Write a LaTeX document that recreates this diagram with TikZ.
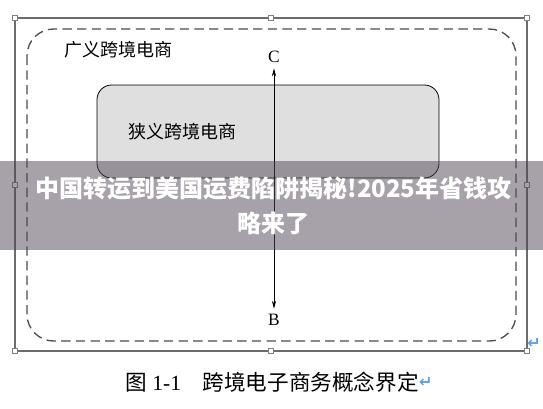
\documentclass[tikz,border=0pt]{standalone}
\usepackage{fontspec}
\setmainfont{Liberation Serif}
\newfontfamily\cjk{Noto Sans CJK SC}
\newfontfamily\sym{DejaVu Sans}
\usetikzlibrary{arrows.meta}
\definecolor{bannergray}{RGB}{80,70,85}
\definecolor{markblue}{RGB}{90,160,230}
\begin{document}
\begin{tikzpicture}[x=0.75pt, y=-0.75pt,
    handle/.style={draw=gray, fill=white, line width=0.4pt, minimum size=4pt, inner sep=0pt},
    frameline/.style={draw=gray!85!black, line width=1pt},
    region/.style={draw=gray!60!black, line width=1pt, dash pattern=on 7pt off 4pt, rounded corners=20pt},
    narrowbox/.style={draw=black, fill=gray!25, line width=0.6pt, rounded corners=11pt},
    retmark/.style={text=markblue, font=\sym\bfseries\fontsize{12}{14}\selectfont, inner sep=0pt}]
    \def\fl{15}  % frame left
    \def\fr{527} % frame right
    \def\ft{18}  % frame top
    \def\fb{351} % frame bottom
    \useasboundingbox (0,0) rectangle (543,408);

    % Selection frame
    \draw[frameline] (\fl,\ft) rectangle (\fr,\fb);

    % Broad and narrow regions
    \draw[region] (27,29) rectangle (516,341);
    \node[anchor=west, font=\cjk\fontsize{13.5}{16}\selectfont] (broad) at (60,50) {广义跨境电商};
    \draw[narrowbox] (97,85) rectangle (439,178);
    \node[anchor=west, font=\cjk\fontsize{13.5}{16}\selectfont] (narrow) at (124,132) {狭义跨境电商};

    % Axis between C and B
    \node[font=\fontsize{13}{15}\selectfont, inner sep=1pt] (C) at (274,57) {C};
    \node[font=\fontsize{13}{15}\selectfont, inner sep=1pt] (B) at (274,320) {B};
    \draw[{Stealth[length=6pt,width=3.2pt]}-{Stealth[length=6pt,width=3.2pt]}, line width=0.6pt,
          shorten <=3pt, shorten >=3pt] (C) -- (B);

    % Handles on the frame
    \foreach \hx/\hy [count=\k] in {\fl/\ft, 271/\ft, \fr/\ft, \fl/184.5, \fr/184.5, \fl/\fb, 271/\fb, \fr/\fb} {
        \node[handle] (h\k) at (\hx,\hy) {};
    }
    \node[retmark] (ret1) at (534,343) {↵};

    % Banner
    \fill[bannergray, opacity=0.5] (0,161) rectangle (543,250);
    \node[align=center, text=white, font=\cjk\bfseries\fontsize{18}{26}\selectfont] (banner) at (273.5,206)
        {中国转运到美国运费陷阱揭秘!2025年省钱攻\\略来了};

    % Caption
    \node[anchor=west, font=\fontsize{16.2}{18}\selectfont, inner sep=0pt] (caption) at (125,382)
        {{\cjk 图}~1-1\hspace{1em}{\cjk 跨境电子商务概念界定}};
    \node[retmark, anchor=west] (ret2) at (caption.east) {↵};
\end{tikzpicture}
\end{document}
